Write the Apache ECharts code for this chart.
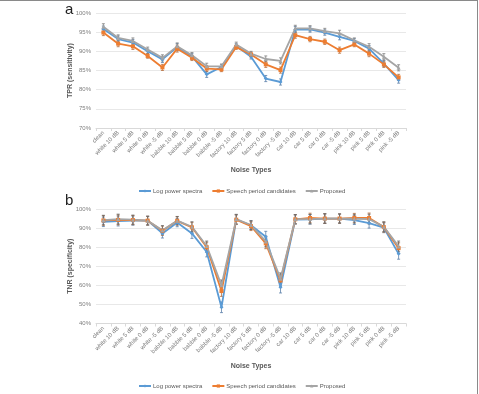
<!DOCTYPE html>
<html>
<head>
<meta charset="utf-8">
<script src="https://cdn.jsdelivr.net/npm/echarts@6/dist/echarts.min.js"></script>
<style>
  html, body { margin: 0; padding: 0; background: #fff; }
  #frame { position: absolute; left: 0; top: 0; width: 477px; height: 394px; border-top: 1px solid #8a8a8a; border-right: 1px solid #8a8a8a; }
  #chart { position: absolute; left: 0; top: 0; width: 479px; height: 394px; }
</style>
</head>
<body>
<div id="frame"></div>
<div id="chart"></div>
<script>
// Categorías (tipos de ruido)
const categories = ['clean', 'white 10 dB', 'white 5 dB', 'white 0 dB', 'white -5 dB',
  'babble 10 dB', 'babble 5 dB', 'babble 0 dB', 'babble -5 dB',
  'factory 10 dB', 'factory 5 dB', 'factory 0 dB', 'factory -5 dB',
  'car 10 dB', 'car 5 dB', 'car 0 dB', 'car -5 dB',
  'pink 10 dB', 'pink 5 dB', 'pink 0 dB', 'pink -5 dB'];
const seriesNames = ['Log power spectra', 'Speech period candidates', 'Proposed'];

// (a) TPR
const tprLog      = [95.8, 93.2, 92.3, 90.0, 87.9, 91.1, 88.7, 84.0, 85.9, 91.4, 88.6, 82.9, 82.0, 95.7, 95.7, 94.9, 93.8, 92.7, 90.7, 86.8, 82.5];
const tprSpeech   = [94.9, 92.0, 91.3, 88.8, 85.8, 90.7, 88.3, 85.5, 85.3, 91.1, 89.2, 86.6, 85.1, 94.2, 93.2, 92.5, 90.3, 91.8, 89.4, 86.6, 83.2];
const tprProposed = [96.4, 93.5, 92.7, 90.5, 88.3, 91.3, 89.0, 86.1, 86.1, 91.8, 89.4, 88.0, 87.5, 96.0, 96.0, 95.3, 94.7, 92.9, 91.2, 88.6, 85.7];
const tprErr      = [0.8, 0.8, 0.8, 0.6, 0.8, 0.9, 0.7, 0.8, 0.6, 0.6, 0.6, 0.8, 0.8, 0.8, 0.7, 0.7, 0.8, 0.6, 0.8, 0.8, 0.8];

// (b) TNR
const tnrLog      = [93.3, 93.7, 93.9, 93.9, 87.2, 92.9, 87.2, 77.5, 48.5, 94.5, 91.5, 85.5, 59.0, 94.5, 94.6, 95.0, 95.0, 94.2, 92.6, 90.2, 76.5];
const tnrSpeech   = [94.0, 94.3, 94.2, 93.9, 88.6, 93.8, 90.4, 80.0, 57.0, 94.4, 91.0, 82.0, 62.5, 94.6, 95.3, 95.0, 95.0, 95.4, 95.3, 90.5, 79.5];
const tnrProposed = [94.2, 94.7, 94.4, 93.9, 88.9, 93.9, 90.7, 80.6, 60.0, 94.7, 91.6, 83.0, 63.5, 94.7, 94.7, 95.0, 95.0, 94.9, 94.7, 90.7, 80.4];
const tnrErr      = [2.5, 2.6, 2.4, 2.3, 2.4, 2.2, 2.6, 2.6, 2.8, 2.5, 2.3, 2.8, 3.0, 2.4, 2.5, 2.5, 2.4, 2.3, 2.6, 2.6, 2.8];

const colors = ['#5b9bd5', '#ed7d31', '#a5a5a5'];
const symbols = ['diamond', 'rect', 'triangle'];
const font = 'Liberation Sans';

const chart = echarts.init(document.getElementById('chart'));

// Barras de error como serie custom
function errorSeries(values, err, color, axisIdx) {
    return {
        type: 'custom',
        xAxisIndex: axisIdx,
        yAxisIndex: axisIdx,
        silent: true,
        z: 3,
        data: values.map((v, i) => [i, v - err[i], v + err[i]]),
        renderItem: function(params, api) {
            const lo = api.coord([api.value(0), api.value(1)]);
            const hi = api.coord([api.value(0), api.value(2)]);
            const style = { stroke: color, lineWidth: 0.8 };
            return {
                type: 'group',
                children: [
                    { type: 'line', shape: { x1: lo[0], y1: lo[1], x2: hi[0], y2: hi[1] }, style: style },
                    { type: 'line', shape: { x1: lo[0] - 1.5, y1: lo[1], x2: lo[0] + 1.5, y2: lo[1] }, style: style },
                    { type: 'line', shape: { x1: hi[0] - 1.5, y1: hi[1], x2: hi[0] + 1.5, y2: hi[1] }, style: style }
                ]
            };
        }
    };
}

function lineSeries(name, values, idx, axisIdx) {
    return {
        name: name,
        type: 'line',
        xAxisIndex: axisIdx,
        yAxisIndex: axisIdx,
        data: values,
        symbol: symbols[idx],
        symbolSize: 4,
        z: 4,
        lineStyle: { width: 1.8, color: colors[idx] },
        itemStyle: { color: colors[idx] }
    };
}

function xAxisFor(gridIdx) {
    return {
        type: 'category',
        gridIndex: gridIdx,
        data: categories,
        boundaryGap: true,
        name: 'Noise Types',
        nameLocation: 'middle',
        nameGap: 39,
        nameMoveOverlap: false,
        nameTextStyle: { fontFamily: font, fontSize: 7, fontWeight: 'bold', color: '#595959' },
        axisLine: { lineStyle: { color: '#d9d9d9' } },
        axisTick: { show: true, length: 3, lineStyle: { color: '#d9d9d9' } },
        axisLabel: { rotate: 45, interval: 0, fontFamily: font, fontSize: 6, color: '#7f7f7f', margin: 4 }
    };
}

function yAxisFor(gridIdx, min, max, interval, title) {
    return {
        type: 'value',
        gridIndex: gridIdx,
        min: min,
        max: max,
        interval: interval,
        name: title,
        nameLocation: 'middle',
        nameRotate: 90,
        nameGap: 22,
        nameMoveOverlap: false,
        nameTextStyle: { fontFamily: font, fontSize: 7, fontWeight: 'bold', color: '#595959' },
        axisLine: { show: false },
        axisTick: { show: false },
        axisLabel: { formatter: '{value}%', fontFamily: font, fontSize: 6, color: '#7f7f7f', margin: 5 },
        splitLine: { lineStyle: { color: '#e8e8e8', width: 1 } }
    };
}

function legendAt(top) {
    return {
        top: top,
        left: 133,
        itemWidth: 12,
        itemHeight: 4,
        itemGap: 9,
        data: seriesNames,
        textStyle: { fontFamily: font, fontSize: 6, color: '#595959', padding: [0, 0, 0, -3] }
    };
}

const option = {
    animation: false,
    color: colors,
    grid: [
        { left: 96, right: 73, top: 13, height: 115 },
        { left: 96, right: 73, top: 209, height: 114.5 }
    ],
    xAxis: [xAxisFor(0), xAxisFor(1)],
    yAxis: [
        yAxisFor(0, 70, 100, 5, 'TPR (sensitivity)'),
        yAxisFor(1, 40, 100, 10, 'TNR (specificity)')
    ],
    legend: [legendAt(183), legendAt(378)],
    graphic: [
        { type: 'text', left: 65, top: 2, style: { text: 'a', fontFamily: font, fontSize: 15, fill: '#222' } },
        { type: 'text', left: 65, top: 193, style: { text: 'b', fontFamily: font, fontSize: 15, fill: '#222' } }
    ],
    series: [
        errorSeries(tprLog, tprErr, '#5b7fa8', 0),
        errorSeries(tprSpeech, tprErr, '#b8703f', 0),
        errorSeries(tprProposed, tprErr, '#808080', 0),
        lineSeries(seriesNames[0], tprLog, 0, 0),
        lineSeries(seriesNames[1], tprSpeech, 1, 0),
        lineSeries(seriesNames[2], tprProposed, 2, 0),
        errorSeries(tnrLog, tnrErr, '#5b7fa8', 1),
        errorSeries(tnrSpeech, tnrErr, '#b8703f', 1),
        errorSeries(tnrProposed, tnrErr, '#666666', 1),
        lineSeries(seriesNames[0], tnrLog, 0, 1),
        lineSeries(seriesNames[1], tnrSpeech, 1, 1),
        lineSeries(seriesNames[2], tnrProposed, 2, 1)
    ]
};

chart.setOption(option);
</script>
</body>
</html>
